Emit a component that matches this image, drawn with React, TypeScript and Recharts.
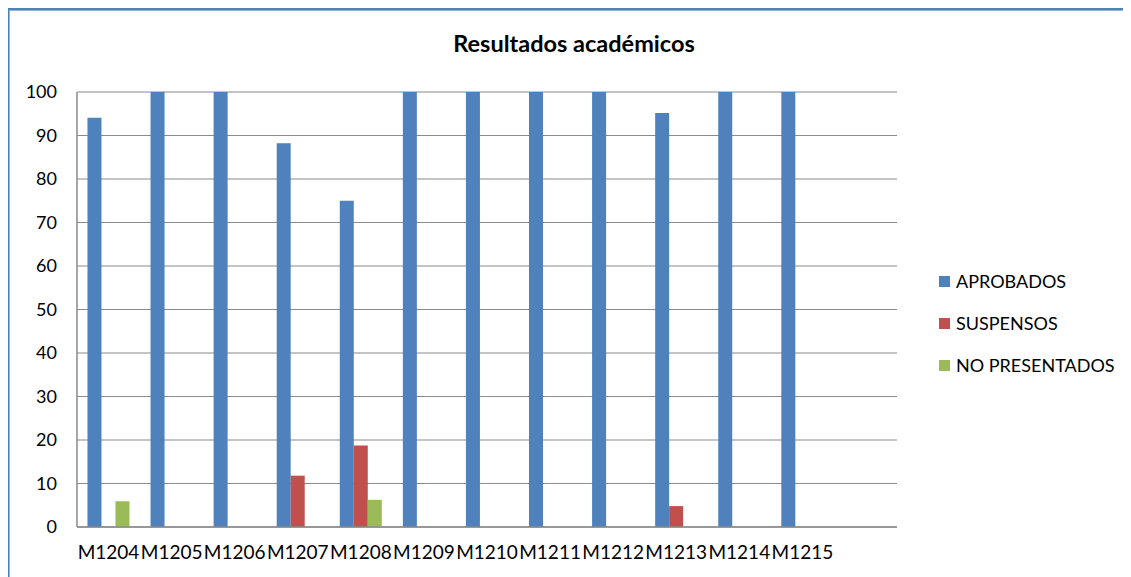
import { Bar, BarChart, CartesianGrid, XAxis, YAxis } from "recharts";

const categories = ["M1204", "M1205", "M1206", "M1207", "M1208", "M1209", "M1210", "M1211", "M1212", "M1213", "M1214", "M1215", ""];
const aprobados = [94.1, 100, 100, 88.2, 75, 100, 100, 100, 100, 95.2, 100, 100, null];
const suspensos = [0, 0, 0, 11.8, 18.75, 0, 0, 0, 0, 4.8, 0, 0, null];
const noPresentados = [5.9, 0, 0, 0, 6.25, 0, 0, 0, 0, 0, 0, 0, null];
const yTicks = [0, 10, 20, 30, 40, 50, 60, 70, 80, 90, 100];

const SERIES = [
  { key: "aprobados", name: "APROBADOS", color: "#4F81BD" },
  { key: "suspensos", name: "SUSPENSOS", color: "#C0504D" },
  { key: "noPresentados", name: "NO PRESENTADOS", color: "#9BBB59" },
];

const FONT = "Lato, 'Open Sans', sans-serif";
const yTick = { fill: "#000", fontSize: 18, fontFamily: FONT };
const xTick = { fill: "#000", fontSize: 19, fontFamily: FONT };

const data = categories.map((c, i) => ({
  name: c,
  aprobados: aprobados[i],
  suspensos: suspensos[i],
  noPresentados: noPresentados[i],
}));

function LegendBox() {
  return (
    <div style={{ fontFamily: FONT, fontSize: 18, color: "#000" }}>
      {SERIES.map(s => (
        <div key={s.key} style={{ display: "flex", alignItems: "center", height: 42 }}>
          <span style={{ width: 11, height: 11, background: s.color, display: "inline-block", marginRight: 6 }} />
          <span>{s.name}</span>
        </div>
      ))}
    </div>
  );
}

export default function App() {
  return (
    <div style={{ position: "relative", width: 1131, height: 577, marginLeft: -8, marginTop: -8, overflow: "hidden", background: "#fff" }}>
      <div
        style={{
          position: "absolute",
          left: 5,
          top: 7,
          width: 1200,
          height: 700,
          borderLeft: "4px solid #4F81BD",
          borderTop: "3px solid #4F81BD",
          boxShadow: "inset 1px 1px 0 #95B3D7",
        }}
      />
      <div
        style={{
          position: "absolute",
          left: 374,
          width: 400,
          top: 29,
          textAlign: "center",
          fontFamily: FONT,
          fontWeight: 700,
          fontSize: 23.5,
          color: "#000",
        }}
      >
        Resultados académicos
      </div>
      <div style={{ position: "absolute", left: 0, top: 0 }}>
        <BarChart
          width={1131}
          height={577}
          data={data}
          margin={{ top: 92, right: 234, left: 0, bottom: 20 }}
          barCategoryGap="16.6%"
          barGap={0}
        >
          <CartesianGrid vertical={false} stroke="#8a8a8a" strokeWidth={1.2} />
          <XAxis
            dataKey="name"
            tick={xTick}
            tickLine={false}
            axisLine={{ stroke: "#8a8a8a", strokeWidth: 1.5 }}
            tickMargin={13}
            interval={0}
            height={30}
          />
          <YAxis
            domain={[0, 100]}
            ticks={yTicks}
            tick={yTick}
            tickLine={false}
            axisLine={{ stroke: "#8a8a8a", strokeWidth: 1.5 }}
            tickMargin={14}
            width={77}
            interval={0}
          />
          {SERIES.map(s => (
            <Bar key={s.key} dataKey={s.key} name={s.name} fill={s.color} isAnimationActive={false} />
          ))}
        </BarChart>
      </div>
      <div style={{ position: "absolute", left: 939, top: 260 }}>
        <LegendBox />
      </div>
    </div>
  );
}
